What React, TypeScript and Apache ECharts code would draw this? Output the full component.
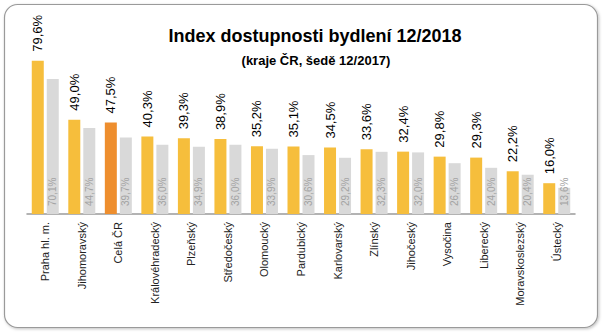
import React, { useEffect, useRef } from "react";
import * as echarts from "echarts";

const categories = [
  "Praha hl. m.", "Jihomoravský", "Celá ČR", "Královéhradecký", "Plzeňský",
  "Středočeský", "Olomoucký", "Pardubický", "Karlovarský", "Zlínský",
  "Jihočeský", "Vysočina", "Liberecký", "Moravskoslezský", "Ústecký",
];
const values2018 = [79.6, 49.0, 47.5, 40.3, 39.3, 38.9, 35.2, 35.1, 34.5, 33.6, 32.4, 29.8, 29.3, 22.2, 16.0];
const values2017 = [70.1, 44.7, 39.7, 36.0, 34.9, 36.0, 33.9, 30.6, 29.2, 32.3, 32.0, 26.4, 24.0, 20.4, 13.6];
const highlightCategory = "Celá ČR";

const YELLOW = "#F6BE3C";
const ORANGE = "#EE8E2E";
const GRAY = "#D9D9D9";
const FONT = "Liberation Sans, Arial, sans-serif";

const fmt = (v: number) => v.toFixed(1).replace(".", ",") + "%";

export default function App() {
  const ref = useRef<HTMLDivElement>(null);
  useEffect(() => {
    if (!ref.current) return;
    const chart = echarts.init(ref.current, null, { renderer: "svg" });
    chart.setOption({
      animation: false,
      backgroundColor: "#ffffff",
      textStyle: { fontFamily: FONT },
      graphic: [
        {
          type: "rect",
          z: -10,
          shape: { x: 4.5, y: 4.5, width: 593, height: 323, r: 13 },
          style: {
            fill: "#ffffff",
            stroke: "#9a9a9a",
            lineWidth: 1.2,
            shadowBlur: 3,
            shadowOffsetX: 1,
            shadowOffsetY: 1,
            shadowColor: "rgba(0,0,0,0.25)",
          },
        },
      ],
      title: [
        {
          text: "Index dostupnosti bydlení 12/2018",
          left: 310,
          top: 22,
          textAlign: "center",
          textStyle: { fontFamily: FONT, fontSize: 18, fontWeight: "bold", color: "#000" },
        },
        {
          text: "(kraje ČR, šedě 12/2017)",
          left: 311,
          top: 49,
          textAlign: "center",
          textStyle: { fontFamily: FONT, fontSize: 13, fontWeight: "bold", color: "#000" },
        },
      ],
      grid: { left: 27, right: 29, top: 60, bottom: 122 },
      xAxis: {
        type: "category",
        data: categories,
        axisLine: { lineStyle: { color: "#9a9a9a", width: 1.5 } },
        axisTick: { show: false },
        axisLabel: {
          rotate: 90,
          interval: 0,
          margin: 8,
          fontSize: 11,
          color: "#222",
          fontFamily: FONT,
        },
      },
      yAxis: { type: "value", min: 0, max: 80, show: false, splitLine: { show: false } },
      series: [
        {
          type: "bar",
          name: "12/2018",
          barWidth: 12,
          barGap: "25%",
          data: values2018.map((v, i) => ({
            value: v,
            itemStyle: { color: categories[i] === highlightCategory ? ORANGE : YELLOW },
          })),
          label: {
            show: true,
            position: "top",
            rotate: 90,
            align: "left",
            verticalAlign: "middle",
            distance: 9,
            fontSize: 13,
            color: "#000",
            fontFamily: FONT,
            formatter: (p: any) => fmt(p.value),
          },
        },
        {
          type: "bar",
          name: "12/2017",
          barWidth: 12,
          itemStyle: { color: GRAY },
          data: values2017,
          label: {
            show: true,
            position: "insideBottom",
            rotate: 90,
            align: "left",
            verticalAlign: "middle",
            distance: 8,
            fontSize: 10,
            color: "#a3a3a3",
            fontFamily: FONT,
            formatter: (p: any) => fmt(p.value),
          },
        },
      ],
    });
    return () => chart.dispose();
  }, []);
  return (
    <div
      ref={ref}
      style={{ position: "fixed", left: 0, top: 0, width: 604, height: 336 }}
    />
  );
}
